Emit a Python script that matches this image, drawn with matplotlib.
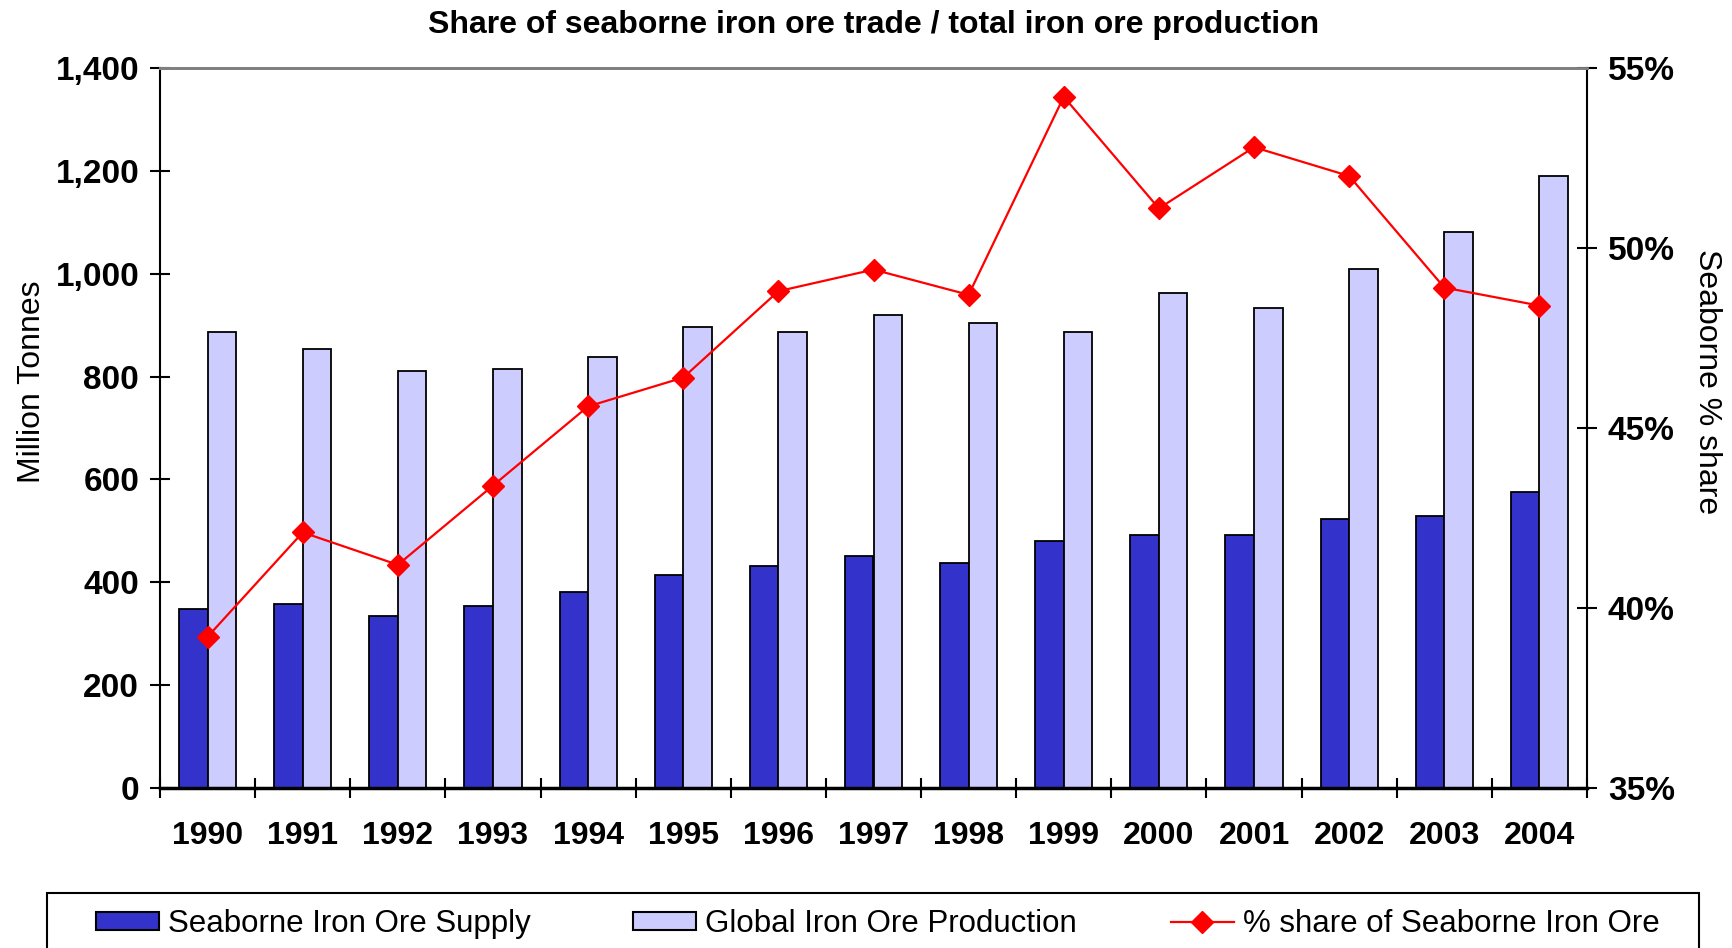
import numpy as np
import matplotlib
matplotlib.use('Agg')
import matplotlib.pyplot as plt
from matplotlib.patches import Patch, Rectangle
from matplotlib.lines import Line2D
from matplotlib.ticker import FuncFormatter

plt.rcParams['font.family'] = ['Liberation Sans', 'DejaVu Sans']

years = ['1990', '1991', '1992', '1993', '1994', '1995', '1996', '1997',
         '1998', '1999', '2000', '2001', '2002', '2003', '2004']
seaborne = [348, 357, 334, 353, 381, 414, 432, 452, 438, 481, 491, 491, 524, 529, 576]
production = [886, 853, 811, 815, 839, 896, 886, 920, 905, 886, 962, 934, 1010, 1081, 1190]
share = [39.2, 42.1, 41.2, 43.4, 45.6, 46.4, 48.8, 49.4, 48.7, 54.2, 51.1, 52.8, 52.0, 48.9, 48.4]

dark = '#3333CC'
light = '#CCCCFF'
fs = 23
W, H = 1732, 948

fig = plt.figure(figsize=(W / 100, H / 100), dpi=100)
ax = fig.add_axes([160 / W, 1 - 788 / H, 1427 / W, 720 / H])

x = np.arange(len(years))
w = 0.3
ax.bar(x - w / 2, seaborne, w, color=dark, edgecolor='black', linewidth=1.3, zorder=2)
ax.bar(x + w / 2, production, w, color=light, edgecolor='black', linewidth=1.3, zorder=2)

ax.set_xlim(-0.5, len(years) - 0.5)
ax.set_ylim(0, 1400)
ax.set_yticks(range(0, 1401, 200))
ax.yaxis.set_major_formatter(FuncFormatter(lambda v, p: f'{int(v):,}'))

# ticks between categories, labels centred under groups
ax.set_xticks(np.arange(-0.5, len(years), 1))
ax.set_xticklabels([])
ax.set_xticks(x, minor=True)
ax.set_xticklabels(years, minor=True, fontsize=fs, fontweight='bold')
ax.tick_params(axis='x', which='major', direction='inout', length=14, width=1.5)
ax.tick_params(axis='x', which='minor', length=0, pad=24)
ax.tick_params(axis='y', direction='inout', length=14, width=1.5, pad=8, labelsize=24)
for lab in ax.get_yticklabels():
    lab.set_fontweight('bold')

ax.set_ylabel('Million Tonnes', fontsize=fs)
ax.yaxis.set_label_coords(-0.079, 0.564)

for s in ['left', 'bottom']:
    ax.spines[s].set_linewidth(1.5)
ax.spines['bottom'].set_linewidth(2.5)
ax.spines['top'].set_color('#808080')
ax.spines['top'].set_linewidth(2)
ax.spines['right'].set_visible(False)

ax2 = ax.twinx()
ax2.plot(x, share, color='red', linewidth=1.6, marker='D', markersize=11,
         markerfacecolor='red', markeredgecolor='red', zorder=5)
ax2.set_ylim(35, 55)
ax2.set_yticks(range(35, 56, 5))
ax2.yaxis.set_major_formatter(FuncFormatter(lambda v, p: f'{int(v)}%'))
ax2.tick_params(axis='y', direction='inout', length=14, width=1.5, pad=8, labelsize=24)
for lab in ax2.get_yticklabels():
    lab.set_fontweight('bold')
ax2.set_ylabel('Seaborne % share', fontsize=fs, rotation=-90, va='center')
ax2.yaxis.set_label_coords(1.084, 0.564)
ax2.spines['right'].set_linewidth(1.5)
ax2.spines['top'].set_color('#808080')
ax2.spines['top'].set_linewidth(2)
ax2.spines['left'].set_visible(False)
ax2.spines['bottom'].set_visible(False)

ax.set_title('Share of seaborne iron ore trade / total iron ore production',
             fontsize=fs, fontweight='bold', pad=25)

# legend: box runs off the bottom of the image, entries in equal columns
fig.add_artist(Rectangle((47 / W, -0.05), 1652 / W, 0.05 + 1 - 893 / H,
                         transform=fig.transFigure, facecolor='white',
                         edgecolor='black', linewidth=1.5))
handles = [Patch(facecolor=dark, edgecolor='black', linewidth=1.5),
           Patch(facecolor=light, edgecolor='black', linewidth=1.5),
           Line2D([], [], color='red', linewidth=1.6, marker='D', markersize=11)]
labels = ['Seaborne Iron Ore Supply', 'Global Iron Ore Production',
          '% share of Seaborne Iron Ore']
col_x = [96, 633, 1171]
for h, lab, cx in zip(handles, labels, col_x):
    fig.legend([h], [lab], loc='center left',
                bbox_to_anchor=(cx / W, 1 - 924 / H),
                borderaxespad=0, borderpad=0, fontsize=22.5, frameon=False,
                handlelength=2.0, handleheight=0.55, handletextpad=0.3)

fig.savefig('out.png', dpi=100)
